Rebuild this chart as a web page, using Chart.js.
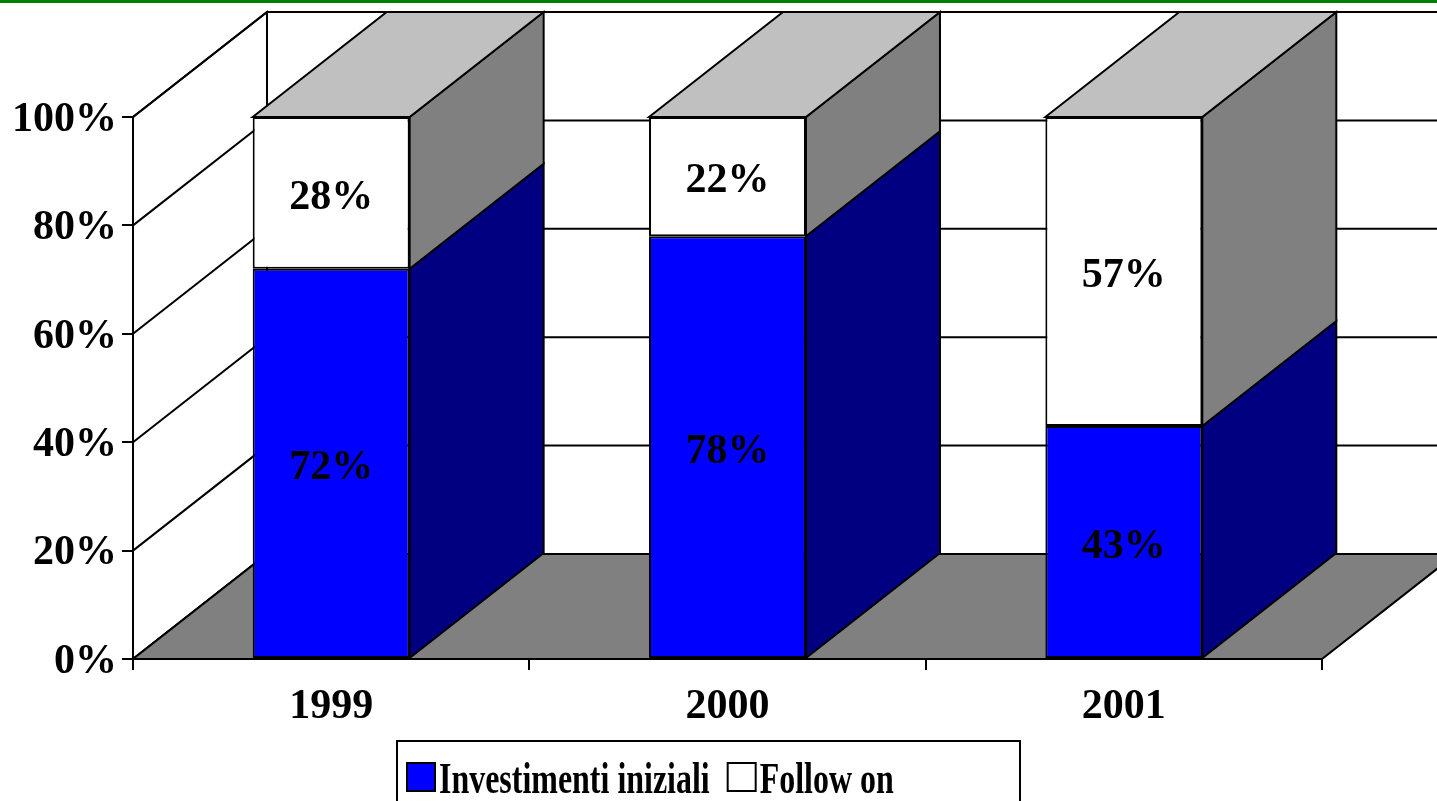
<!DOCTYPE html>
<html>
<head>
<meta charset="utf-8">
<script src="https://cdn.jsdelivr.net/npm/chart.js@4.4.0/dist/chart.umd.min.js"></script>
<style>
html, body { margin: 0; padding: 0; background: #fff; }
#wrap { width: 1437px; height: 801px; }
</style>
</head>
<body>
<div id="wrap"><canvas id="chart" width="1437" height="801"></canvas></div>
<script>
const years = ['1999', '2000', '2001'];
const investimentiIniziali = [72, 78, 43];
const followOn = [28, 22, 57];
const yTicks = [0, 20, 40, 60, 80, 100];

const FONT = '"Liberation Serif", "Times New Roman", serif';
const DEPTH_X = 134;
const DEPTH_Y = -105;

function poly(ctx, pts, fill) {
    ctx.beginPath();
    ctx.moveTo(pts[0][0], pts[0][1]);
    for (let i = 1; i < pts.length; i++) ctx.lineTo(pts[i][0], pts[i][1]);
    ctx.closePath();
    if (fill) { ctx.fillStyle = fill; ctx.fill(); }
    ctx.stroke();
}

// green rule across the top of the slide
const topStripe = {
    id: 'topStripe',
    beforeDraw(chart) {
        const ctx = chart.ctx;
        ctx.save();
        ctx.fillStyle = '#008000';
        ctx.fillRect(0, 0, chart.width, 3);
        ctx.restore();
    },
};

// walls, floor and the depth faces of the bars
const walls3d = {
    id: 'walls3d',
    beforeDatasetsDraw(chart) {
        const { ctx, chartArea: a, scales: { y } } = chart;
        const yb = y.getPixelForValue(0);
        const yt = y.getPixelForValue(100);
        ctx.save();
        ctx.lineWidth = 2;
        ctx.strokeStyle = '#000';

        poly(ctx, [[a.left, yb], [a.left, yt], [a.left + DEPTH_X, yt + DEPTH_Y], [a.left + DEPTH_X, yb + DEPTH_Y]], '#fff');
        ctx.fillStyle = '#fff';
        ctx.fillRect(a.left + DEPTH_X, yt + DEPTH_Y, a.right - a.left, yb - yt);

        ctx.beginPath();
        yTicks.forEach(v => {
            const py = y.getPixelForValue(v);
            ctx.moveTo(a.left, py);
            ctx.lineTo(a.left + DEPTH_X, py + DEPTH_Y);
            ctx.lineTo(a.right + DEPTH_X, py + DEPTH_Y);
        });
        ctx.moveTo(a.left + DEPTH_X, yt + DEPTH_Y);
        ctx.lineTo(a.left + DEPTH_X, yb + DEPTH_Y);
        ctx.stroke();

        poly(ctx, [[a.left, yb], [a.right, yb], [a.right + DEPTH_X, yb + DEPTH_Y], [a.left + DEPTH_X, yb + DEPTH_Y]], '#808080');

        const sideColors = ['#000080', '#808080'];
        const last = chart.data.datasets.length - 1;
        chart.data.datasets.forEach((ds, di) => {
            chart.getDatasetMeta(di).data.forEach(bar => {
                const { x, y: top, base, width } = bar.getProps(['x', 'y', 'base', 'width'], true);
                const l = x - width / 2, r = x + width / 2;
                poly(ctx, [[r, base], [r, top], [r + DEPTH_X, top + DEPTH_Y], [r + DEPTH_X, base + DEPTH_Y]], sideColors[di]);
                if (di === last) {
                    poly(ctx, [[l, top], [l + DEPTH_X, top + DEPTH_Y], [r + DEPTH_X, top + DEPTH_Y], [r, top]], '#C0C0C0');
                }
            });
        });
        ctx.restore();
    },
};

const valueLabels = {
    id: 'valueLabels',
    afterDatasetsDraw(chart) {
        const ctx = chart.ctx;
        ctx.save();
        ctx.font = 'bold 42px ' + FONT;
        ctx.fillStyle = '#000';
        ctx.textAlign = 'center';
        ctx.textBaseline = 'middle';
        chart.data.datasets.forEach((ds, di) => {
            chart.getDatasetMeta(di).data.forEach((bar, i) => {
                const { x, y, base } = bar.getProps(['x', 'y', 'base'], true);
                ctx.fillText(ds.data[i] + '%', x, (y + base) / 2 + 5);
            });
        });
        ctx.restore();
    },
};

// boxed legend under the axis, condensed like the original
const boxedLegend = {
    id: 'boxedLegend',
    afterDraw(chart) {
        const ctx = chart.ctx;
        const frame = { left: 397, top: 741, width: 623, height: 80 };
        const box = 28;
        const cy = 777;
        const squeeze = 0.71;
        ctx.save();
        ctx.lineWidth = 2;
        ctx.strokeStyle = '#000';
        ctx.strokeRect(frame.left, frame.top, frame.width, frame.height);
        ctx.font = 'bold 45px ' + FONT;
        ctx.textBaseline = 'alphabetic';
        let x = frame.left + 10;
        chart.data.datasets.forEach(ds => {
            ctx.fillStyle = ds.backgroundColor;
            ctx.fillRect(x, cy - box / 2, box, box);
            ctx.strokeRect(x, cy - box / 2, box, box);
            x += box + 4;
            ctx.save();
            ctx.translate(x, cy + 16);
            ctx.scale(squeeze, 1);
            ctx.fillStyle = '#000';
            ctx.fillText(ds.label, 0, 0);
            const w = ctx.measureText(ds.label).width * squeeze;
            ctx.restore();
            x += w + 18;
        });
        ctx.restore();
    },
};

new Chart(document.getElementById('chart'), {
    type: 'bar',
    data: {
        labels: years,
        datasets: [{
            label: 'Investimenti iniziali',
            data: investimentiIniziali,
            backgroundColor: '#0000FF',
            borderColor: '#000',
            borderWidth: 2,
            borderSkipped: false,
            categoryPercentage: 1,
            barPercentage: 0.396,
        }, {
            label: 'Follow on',
            data: followOn,
            backgroundColor: '#FFFFFF',
            borderColor: '#000',
            borderWidth: 2,
            borderSkipped: false,
            categoryPercentage: 1,
            barPercentage: 0.396,
        }],
    },
    options: {
        responsive: false,
        animation: false,
        layout: { padding: { left: 13, right: 115, top: 117, bottom: 58 } },
        plugins: {
            tooltip: { enabled: false },
            legend: { display: false },
        },
        scales: {
            x: {
                stacked: true,
                z: 1,
                afterFit: s => { s.height = 84; },
                grid: { display: true, drawOnChartArea: false, drawTicks: true, tickLength: 11, color: '#000', lineWidth: 2, offset: true },
                border: { display: true, color: '#000', width: 2 },
                ticks: { font: { family: FONT, size: 42, weight: 'bold' }, color: '#000', padding: 12 },
            },
            y: {
                stacked: true,
                z: 1,
                min: 0,
                max: 100,
                afterFit: s => { s.width = 120; },
                grid: { display: true, drawOnChartArea: false, drawTicks: true, tickLength: 11, color: '#000', lineWidth: 2 },
                border: { display: true, color: '#000', width: 2 },
                ticks: {
                    stepSize: 20,
                    padding: 5,
                    labelOffset: 3,
                    font: { family: FONT, size: 42, weight: 'bold' },
                    color: '#000',
                    callback: v => v + '%',
                },
            },
        },
    },
    plugins: [topStripe, walls3d, valueLabels, boxedLegend],
});
</script>
</body>
</html>
